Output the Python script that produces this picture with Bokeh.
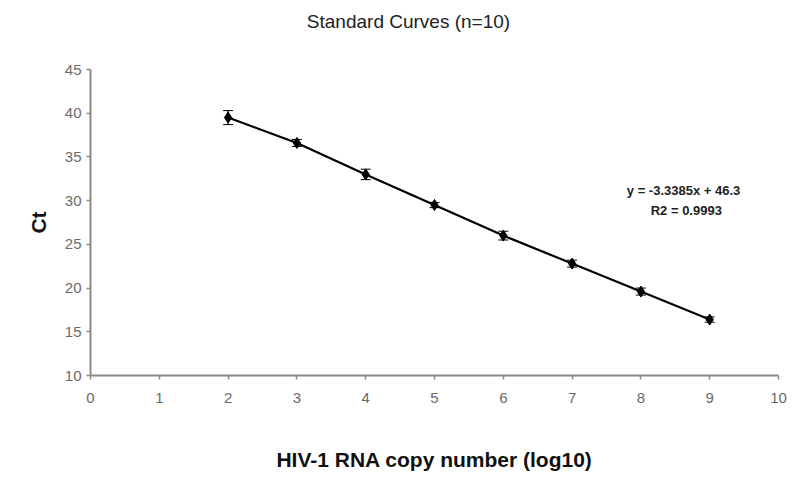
from bokeh.plotting import figure
from bokeh.models import ColumnDataSource, Whisker, Label, FixedTicker, Range1d, Div
from bokeh.layouts import column
from bokeh.embed import file_html
from bokeh.resources import INLINE

log_copies = [2, 3, 4, 5, 6, 7, 8, 9]
ct_mean = [39.5, 36.6, 33.0, 29.5, 26.0, 22.8, 19.6, 16.4]
ct_sd = [0.8, 0.4, 0.6, 0.3, 0.5, 0.4, 0.4, 0.3]
x_ticks = list(range(0, 11))
y_ticks = list(range(10, 50, 5))
title_text = "Standard Curves (n=10)"

FONT = "Liberation Sans"
TITLE_H = 44

src = ColumnDataSource(dict(
    x=log_copies, y=ct_mean,
    upper=[m + s for m, s in zip(ct_mean, ct_sd)],
    lower=[m - s for m, s in zip(ct_mean, ct_sd)],
))

title = Div(text=title_text, width=800, height=TITLE_H,
            styles={"text-align": "center", "font-family": FONT, "font-size": "19px",
                    "color": "#222222", "line-height": f"{TITLE_H}px", "padding-left": "17px",
                    "box-sizing": "border-box", "width": "800px", "margin": "0"})

p = figure(width=800, height=484 - TITLE_H, output_backend="svg", toolbar_location=None,
           x_range=Range1d(0, 10), y_range=Range1d(10, 45),
           min_border_left=90, min_border_right=22, min_border_top=69 - TITLE_H,
           min_border_bottom=109)
p.outline_line_color = None
p.grid.grid_line_color = None
p.background_fill_color = "white"
p.border_fill_color = "white"

for ax in (p.xaxis[0], p.yaxis[0]):
    ax.axis_line_color = "#8a8a8a"
    ax.axis_line_width = 2
    ax.major_tick_line_color = "#8a8a8a"
    ax.major_tick_line_width = 1.5
    ax.major_tick_out = 4
    ax.major_tick_in = 0
    ax.minor_tick_line_color = None
    ax.major_label_text_font = FONT
    ax.major_label_text_font_size = "15px"
    ax.major_label_text_color = "#6a6a6a"
    ax.axis_label_text_font = FONT
    ax.axis_label_text_font_size = "21px"
    ax.axis_label_text_font_style = "bold"
    ax.axis_label_text_color = "#111111"

p.xaxis.ticker = FixedTicker(ticks=x_ticks)
p.yaxis.ticker = FixedTicker(ticks=y_ticks)
p.xaxis.axis_label = "HIV-1 RNA copy number (log10)"
p.yaxis.axis_label = "Ct"
p.xaxis.major_label_standoff = 13
p.xaxis.axis_label_standoff = 42
p.yaxis.major_label_standoff = 5
p.yaxis.axis_label_standoff = 12

p.line("x", "y", source=src, line_color="black", line_width=2.2)
w = Whisker(source=src, base="x", upper="upper", lower="lower", line_color="black", line_width=1.2)
w.upper_head.size = 10
w.lower_head.size = 10
w.upper_head.line_color = "black"
w.lower_head.line_color = "black"
p.add_layout(w)
p.scatter("x", "y", source=src, marker="diamond", size=11, fill_color="black", line_color="black")

eq1 = Label(x=8.62, y=31.2, text="y = -3.3385x + 46.3", text_align="center", text_baseline="middle",
            text_font=FONT, text_font_size="13px", text_font_style="bold", text_color="#222222")
eq2 = Label(x=8.66, y=28.9, text="R2 = 0.9993", text_align="center", text_baseline="middle",
            text_font=FONT, text_font_size="13px", text_font_style="bold", text_color="#222222")
p.add_layout(eq1)
p.add_layout(eq2)

layout = column(title, p, spacing=0)
open("out.html", "w").write(file_html(layout, INLINE))
